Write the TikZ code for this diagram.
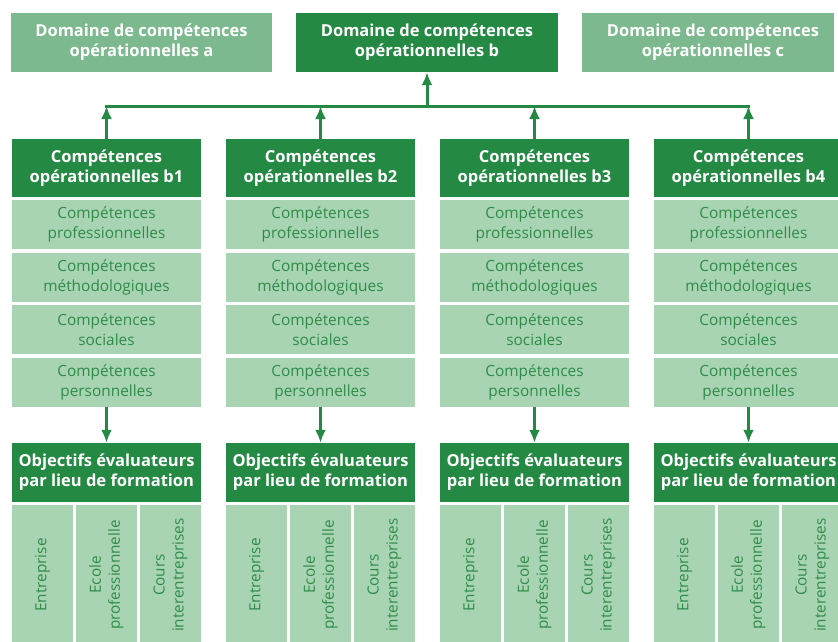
\documentclass[tikz,border=0pt]{standalone}
\usepackage{fontspec}
\setmainfont{Open Sans}
\usetikzlibrary{arrows.meta}
\definecolor{dkgreen}{HTML}{248A43}
\definecolor{midgreen}{HTML}{7DB98E}
\definecolor{ltgreen}{HTML}{A8D4B4}
\definecolor{txgreen}{HTML}{2E8C48}
\tikzset{
  darkbox/.style={fill=dkgreen, text=white, font=\bfseries\fontsize{16.5}{20}\selectfont, align=center, inner sep=0pt, minimum width=189pt, minimum height=#1},
  darkbox/.default=58pt,
  topbox/.style={fill=#1, text=white, font=\bfseries\fontsize{16.5}{20}\selectfont, align=center, inner sep=0pt, minimum height=59pt},
  lightbox/.style={fill=ltgreen, text=txgreen, font=\fontsize{15.4}{20}\selectfont, align=center, inner sep=0pt, minimum width=189pt, minimum height=49pt},
  subbox/.style={fill=ltgreen, inner sep=0pt, minimum width=61pt, minimum height=140pt},
  subtext/.style={text=txgreen, font=\fontsize{15.3}{19}\selectfont, align=center, rotate=90, inner sep=0pt},
  arr/.style={draw=dkgreen, line width=3pt, -{Latex[width=11pt,length=13pt]}},
  bus/.style={draw=dkgreen, line width=3pt}
}
\begin{document}
\begin{tikzpicture}[x=1pt,y=-1pt]
\useasboundingbox[fill=white] (0,0) rectangle (838,641);
% top domains
\node[topbox=midgreen, minimum width=261pt] (da) at (141.5,42.5) {Domaine de compétences\\opérationnelles a};
\node[topbox=dkgreen, minimum width=262pt] (db) at (427,42.5) {Domaine de compétences\\opérationnelles b};
\node[topbox=midgreen, minimum width=252pt] (dc) at (708,42.5) {};
\node[text=white, font=\bfseries\fontsize{16.5}{20}\selectfont, align=center, inner sep=0pt] (dct) at (713,42.5) {Domaine de compétences\\opérationnelles c};
\coordinate (bus) at (427,106);
\foreach \i in {1,2,3,4}{
  \pgfmathsetmacro{\cx}{106.5+214*(\i-1)}
  \node[darkbox] (h\i) at (\cx,168) {Compétences\\opérationnelles b\i};
  \node[lightbox] (p\i) at (\cx,224.5) {Compétences\\professionnelles};
  \node[lightbox] (m\i) at (\cx,277.2) {Compétences\\méthodologiques};
  \node[lightbox] (s\i) at (\cx,329.8) {Compétences\\sociales};
  \node[lightbox] (r\i) at (\cx,382.5) {Compétences\\personnelles};
  \node[darkbox=59pt] (o\i) at (\cx,472.5) {Objectifs évaluateurs\\par lieu de formation};
  \node[subbox] (e\i) at (\cx-64,575) {};
  \node[subbox] (k\i) at (\cx,575) {};
  \node[subbox] (c\i) at (\cx+64,575) {};
  \node[subtext] (et\i) at (e\i.center) {Entreprise};
  \node[subtext] (kt\i) at (k\i.center) {Ecole\\professionnelle};
  \node[subtext] (ct\i) at (c\i.center) {Cours\\interentreprises};
  \draw[arr] (h\i.north) -- (h\i.north |- bus);
  \draw[arr] (r\i.south) -- (o\i.north);
}
\draw[bus] ([xshift=-1.5pt]h1.north |- bus) -- ([xshift=1.5pt]h4.north |- bus);
\draw[arr] (bus) -- (db.south);
\end{tikzpicture}
\end{document}
